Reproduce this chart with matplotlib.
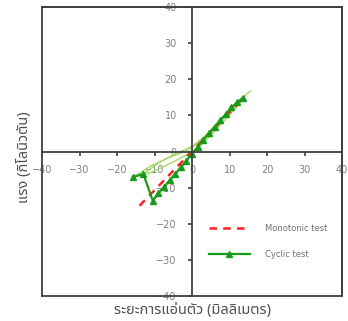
import matplotlib.pyplot as plt
import numpy as np

# Monotonic test (red dashed)
mono_x = [-14.0, 12.5]
mono_y = [-15.0, 13.5]

# Cyclic test envelope (dark green, triangle markers)
cyc_x = [-15.8, -13.0, -10.5, -9.0, -7.5, -6.0, -4.5, -3.0, -1.5, 0.0,
         1.5, 3.0, 4.5, 6.0, 7.5, 9.0, 10.5, 12.0, 13.5]
cyc_y = [-7.1, -6.2, -13.6, -11.6, -9.8, -8.0, -6.2, -4.4, -2.5, -0.6,
         1.3, 3.2, 5.0, 6.8, 8.6, 10.4, 12.2, 13.6, 14.8]

# Hysteresis loops (light green)
loop1_x = [-15.8, -11.0, -6.0, -2.0, 0.0, 3.0, 7.0, 11.0, 15.5]
loop1_y = [-7.1, -4.0, -1.6, 0.0, 1.0, 3.8, 8.2, 12.4, 16.8]
loop2_x = [-13.0, -9.0, -5.0, -1.5, 0.5, 4.0, 8.0, 12.0, 14.0]
loop2_y = [-6.2, -3.2, -0.9, 0.7, 1.8, 4.8, 8.8, 12.8, 14.6]
loop3_x = [13.5, 10.0, 6.0, 2.0, 0.0, -3.0, -7.0, -11.0, -15.8]
loop3_y = [14.2, 10.2, 5.6, 1.4, 0.0, -1.8, -3.9, -5.8, -7.1]

ticks = [-40, -30, -20, -10, 0, 10, 20, 30, 40]
thai = ['Noto Sans Thai', 'DejaVu Sans']

fig = plt.figure(figsize=(3.48, 3.21), dpi=100)
ax = fig.add_axes([0.121, 0.078, 0.862, 0.9])

ax.plot(loop1_x, loop1_y, color='#a5d86a', lw=1.0)
ax.plot(loop2_x, loop2_y, color='#a5d86a', lw=1.0)
ax.plot(loop3_x, loop3_y, color='#a5d86a', lw=1.0)
ax.plot(mono_x, mono_y, color='#ff2020', lw=1.8, ls=(0, (3, 2.5)),
        label='Monotonic test')
ax.plot(cyc_x, cyc_y, color='#1a9a1a', lw=1.6, marker='^', ms=4.5,
        label='Cyclic test')

ax.set_xlim(-40, 40)
ax.set_ylim(-40, 40)
ax.set_xticks(ticks)
ax.set_yticks(ticks)

for s in ['left', 'bottom']:
    ax.spines[s].set_position('zero')
for s in ax.spines.values():
    s.set_color('#404040')
    s.set_linewidth(1.3)
# outer box edges
ax.plot([0, 0, 1, 1, 0], [0, 1, 1, 0, 0], transform=ax.transAxes,
        color='#404040', lw=1.3, clip_on=False)

ax.tick_params(direction='out', length=3, width=1.2, color='#404040',
               labelsize=7, labelcolor='#808080')
ax.tick_params(axis='x', pad=7)
ax.tick_params(axis='y', pad=8)

ax.text(0.5, -0.05, 'ระยะการแอ่นตัว (มิลลิเมตร)', transform=ax.transAxes,
        ha='center', va='center', fontsize=10.5, color='#505050', family=thai)
ax.text(-0.06, 0.48, 'แรง (กิโลนิวตัน)', transform=ax.transAxes, rotation=90,
        ha='center', va='center', fontsize=10.5, color='#505050', family=thai)

ax.legend(loc='upper left', bbox_to_anchor=(0.53, 0.275), frameon=False,
          fontsize=6, labelcolor='#707070', handlelength=5,
          labelspacing=2.0, handletextpad=1.8)

fig.savefig('out.png', dpi=100)
